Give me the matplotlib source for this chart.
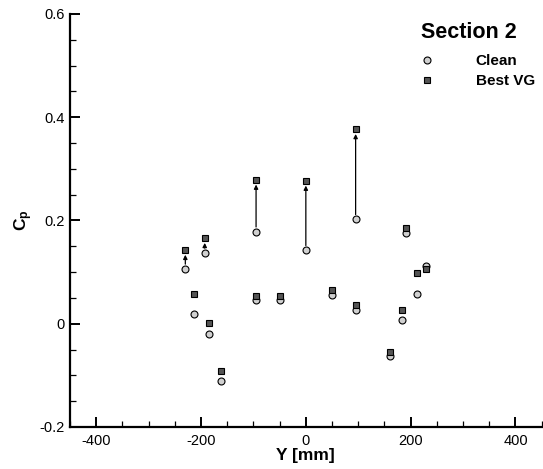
import matplotlib
matplotlib.use('Agg')
import matplotlib.pyplot as plt
from matplotlib.ticker import MultipleLocator

plt.rcParams['font.family'] = 'Liberation Sans'
plt.rcParams['mathtext.fontset'] = 'custom'
plt.rcParams['mathtext.rm'] = 'Liberation Sans'
plt.rcParams['mathtext.bf'] = 'Liberation Sans:bold'

# --- data ---
y_mm = [-230, -193, -213, -185, -161, -95, -95, -50, 0, 50, 95, 95, 161, 184, 192, 213, 230]
cp_clean = [0.106, 0.137, 0.018, -0.019, -0.110, 0.178, 0.046, 0.046, 0.142, 0.056,
            0.202, 0.027, -0.063, 0.008, 0.175, 0.057, 0.111]
cp_vg = [0.143, 0.166, 0.058, 0.002, -0.092, 0.279, 0.054, 0.054, 0.277, 0.065,
         0.377, 0.036, -0.054, 0.027, 0.185, 0.099, 0.106]
arrow_idx = [0, 1, 5, 8, 10]  # points where the change is marked with an arrow

fig = plt.figure(figsize=(5.43, 4.69), dpi=100)
ax = fig.add_axes([0.129, 0.0896, 0.8685, 0.8806])

# arrows clean -> VG
for i in arrow_idx:
    ax.annotate('', xy=(y_mm[i], cp_vg[i]), xytext=(y_mm[i], cp_clean[i]),
                arrowprops=dict(arrowstyle='-|>', color='black', lw=0.9,
                                shrinkA=3.5, shrinkB=3.5, mutation_scale=6),
                zorder=2)

ax.plot(y_mm, cp_clean, 'o', ls='none', ms=5, mfc='#d0d0d0', mec='black', mew=0.8,
        label='Clean', zorder=3)
ax.plot(y_mm, cp_vg, 's', ls='none', ms=5, mfc='#555555', mec='black', mew=0.8,
        label='Best VG', zorder=4)

ax.set_xlim(-450, 450)
ax.set_ylim(-0.2, 0.6)
ax.xaxis.set_minor_locator(MultipleLocator(50))
ax.yaxis.set_minor_locator(MultipleLocator(0.05))
ax.set_yticks([-0.2, 0, 0.2, 0.4, 0.6])
ax.set_yticklabels(['-0.2', '0', '0.2', '0.4', '0.6'])
ax.set_xticks([-400, -200, 0, 200, 400])
ax.set_xticklabels(['-400', '-200', '0', '200', '400'])

for s in ['top', 'right']:
    ax.spines[s].set_visible(False)
for s in ['left', 'bottom']:
    ax.spines[s].set_linewidth(1.6)

ax.tick_params(which='major', direction='in', length=7, width=1.4, labelsize=10.5)
ax.tick_params(axis='x', which='major', pad=5)
ax.tick_params(axis='y', which='major', pad=4)
ax.tick_params(which='minor', direction='in', length=4, width=0.9)

ax.set_xlabel('Y [mm]', fontsize=12.5, fontweight='bold', labelpad=0)
ax.set_ylabel(r'$\mathbf{C_p}$', fontsize=12.5, labelpad=3)

# legend block
fig.text(421 / 543, 1 - 32 / 469, 'Section 2', fontsize=15.5, fontweight='bold',
         ha='left', va='center')
leg = fig.legend(loc='upper left', bbox_to_anchor=(419 / 543, 1 - 54 / 469), frameon=False,
                 handletextpad=2.7, handlelength=1.0, borderpad=0, borderaxespad=0,
                 labelspacing=0.4, prop={'weight': 'bold', 'size': 11})

fig.savefig('out.png', dpi=100)
